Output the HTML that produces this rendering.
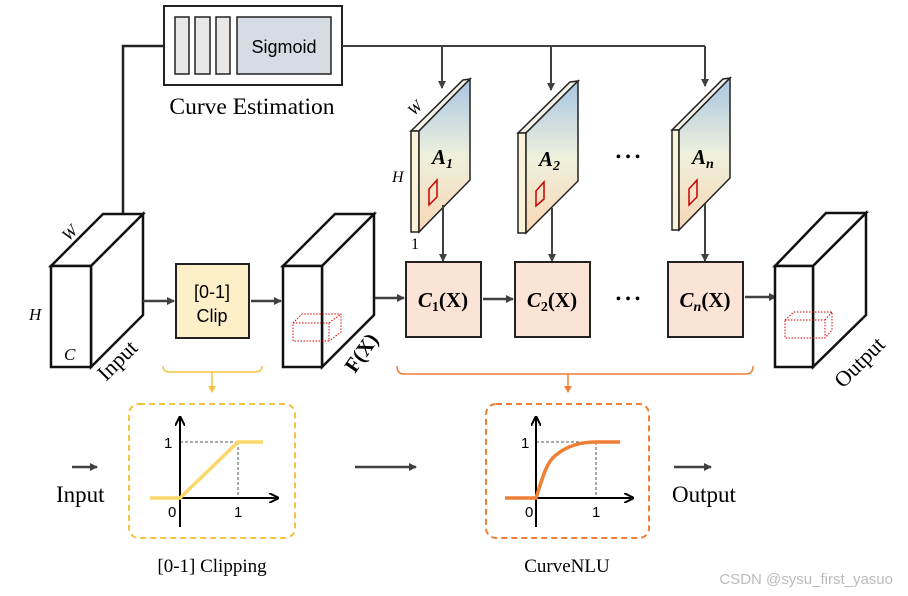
<!DOCTYPE html>
<html><head><meta charset="utf-8"><style>
html,body{margin:0;padding:0;background:#fff;}
svg{display:block;}
.serif{font-family:"Liberation Serif",serif;}
.sans{font-family:"Liberation Sans",sans-serif;}
</style></head><body>
<svg width="908" height="596" viewBox="0 0 908 596" xmlns="http://www.w3.org/2000/svg">
<defs>
<marker id="ah" markerWidth="8" markerHeight="8" refX="7" refY="4" orient="auto" markerUnits="userSpaceOnUse"><path d="M0,0 L8,4 L0,8 z" fill="#404040"/></marker>
<marker id="ahk" markerWidth="10" markerHeight="10" refX="9" refY="5" orient="auto" markerUnits="userSpaceOnUse"><path d="M0,0 L10,5 L0,10" fill="none" stroke="#000" stroke-width="2"/></marker>
<linearGradient id="g" x1="0" y1="0" x2="0" y2="1"><stop offset="0" stop-color="#a7c5e3"/><stop offset="0.5" stop-color="#eef0dc"/><stop offset="1" stop-color="#f8d7b4"/></linearGradient>
</defs>

<!-- curve estimation -->
<rect x="164" y="6" width="178" height="79" fill="#fff" stroke="#222" stroke-width="2"/>
<rect x="175" y="17" width="14" height="57" fill="#e8e8e8" stroke="#222" stroke-width="1.5"/>
<rect x="195" y="17" width="15" height="57" fill="#e8e8e8" stroke="#222" stroke-width="1.5"/>
<rect x="216" y="17" width="14" height="57" fill="#e8e8e8" stroke="#222" stroke-width="1.5"/>
<rect x="237" y="17" width="94" height="57" fill="#d6dce4" stroke="#222" stroke-width="1.5"/>
<text x="284" y="53" class="sans" font-size="18" text-anchor="middle">Sigmoid</text>
<text x="252" y="114" class="serif" font-size="23.5" text-anchor="middle">Curve Estimation</text>

<polyline points="164,46 123,46 123,214" fill="none" stroke="#222" stroke-width="2.5"/>
<line x1="342" y1="46" x2="705" y2="46" stroke="#404040" stroke-width="2"/>
<line x1="442" y1="46" x2="442" y2="88" stroke="#404040" stroke-width="2" marker-end="url(#ah)"/>
<line x1="551" y1="46" x2="551" y2="90" stroke="#404040" stroke-width="2" marker-end="url(#ah)"/>
<line x1="705" y1="46" x2="705" y2="86" stroke="#404040" stroke-width="2" marker-end="url(#ah)"/>

<!-- input cube -->
<g fill="#fff" stroke="#111" stroke-width="2.5">
<polygon points="51,266 103,214 143,214 91,266"/>
<polygon points="91,266 143,214 143,315 91,367"/>
<rect x="51" y="266" width="40" height="101"/>
</g>
<text x="62" y="238" class="serif" font-size="17" font-style="italic" transform="rotate(-45 70 232)">W</text>
<text x="29" y="320" class="serif" font-size="17" font-style="italic">H</text>
<text x="64" y="360" class="serif" font-size="17" font-style="italic">C</text>
<text x="106" y="382" class="serif" font-size="22" transform="rotate(-45 106 382)">Input</text>

<line x1="143" y1="301" x2="174" y2="301" stroke="#404040" stroke-width="2.5" marker-end="url(#ah)"/>
<rect x="176" y="264" width="73" height="74" fill="#fdf0c9" stroke="#222" stroke-width="2"/>
<text x="212" y="298" class="sans" font-size="18" text-anchor="middle">[0-1]</text>
<text x="212" y="322" class="sans" font-size="18" text-anchor="middle">Clip</text>
<line x1="251" y1="301" x2="281" y2="301" stroke="#404040" stroke-width="2.5" marker-end="url(#ah)"/>

<!-- F(X) cube -->
<g fill="#fff" stroke="#111" stroke-width="2.5">
<polygon points="283,266 335,214 374,214 322,266"/>
<polygon points="322,266 374,214 374,315 322,367"/>
<rect x="283" y="266" width="39" height="101"/>
</g>
<g fill="none" stroke="#d00" stroke-width="1" stroke-dasharray="1.5,1.5">
<rect x="293" y="323" width="36" height="18"/><polyline points="293,323 302,314 341,314 341,332 329,341"/><line x1="329" y1="323" x2="341" y2="314"/>
</g>
<text x="355" y="374" class="serif" font-size="21" font-weight="bold" transform="rotate(-55 355 374)">F(X)</text>
<line x1="375" y1="298" x2="404" y2="298" stroke="#404040" stroke-width="2.5" marker-end="url(#ah)"/>

<!-- A maps -->
<g stroke="#222" stroke-width="1.5">
<polygon points="411,131 463,80 470,79 419,131" fill="#f2f2e8"/>
<rect x="411" y="131" width="8" height="101" fill="#fbf3d8"/>
<polygon points="419,131 470,79 470,180 419,232" fill="url(#g)"/>
<polygon points="518,133 570,82 578,81 526,133" fill="#f2f2e8"/>
<rect x="518" y="133" width="8" height="100" fill="#fbf3d8"/>
<polygon points="526,133 578,81 578,181 526,233" fill="url(#g)"/>
<polygon points="672,130 723,79 730,78 679,130" fill="#f2f2e8"/>
<rect x="672" y="130" width="7" height="100" fill="#fbf3d8"/>
<polygon points="679,130 730,78 730,178 679,230" fill="url(#g)"/>
</g>
<g fill="none" stroke="#c00" stroke-width="1.5">
<polygon points="429,189 437,180 437,197 429,205"/>
<polygon points="536,191 544,182 544,199 536,206"/>
<polygon points="689,189 697,180 697,197 689,205"/>
</g>
<g class="serif" font-weight="bold" font-style="italic" font-size="21">
<text x="432" y="164">A<tspan font-size="14" dy="4">1</tspan></text>
<text x="539" y="166">A<tspan font-size="14" dy="4">2</tspan></text>
<text x="692" y="164">A<tspan font-size="14" dy="4">n</tspan></text>
</g>
<text x="408" y="114" class="serif" font-size="16" font-style="italic" transform="rotate(-45 414 108)">W</text>
<text x="392" y="182" class="serif" font-size="16" font-style="italic">H</text>
<text x="411" y="249" class="serif" font-size="16">1</text>
<text x="628" y="162" font-size="16" text-anchor="middle" class="serif">• • •</text>

<line x1="443" y1="205" x2="443" y2="261" stroke="#404040" stroke-width="2" marker-end="url(#ah)"/>
<line x1="552" y1="208" x2="552" y2="261" stroke="#404040" stroke-width="2" marker-end="url(#ah)"/>
<line x1="705" y1="204" x2="705" y2="261" stroke="#404040" stroke-width="2" marker-end="url(#ah)"/>

<!-- C boxes -->
<g fill="#fbe4d5" stroke="#222" stroke-width="2">
<rect x="406" y="262" width="75" height="75"/>
<rect x="515" y="262" width="75" height="75"/>
<rect x="668" y="262" width="75" height="75"/>
</g>
<g class="serif" font-weight="bold" font-size="21" text-anchor="middle">
<text x="443" y="307"><tspan font-style="italic">C</tspan><tspan font-size="14" dy="4">1</tspan><tspan dy="-4">(X)</tspan></text>
<text x="552" y="307"><tspan font-style="italic">C</tspan><tspan font-size="14" dy="4">2</tspan><tspan dy="-4">(X)</tspan></text>
<text x="705" y="307"><tspan font-style="italic">C</tspan><tspan font-size="14" dy="4" font-style="italic">n</tspan><tspan dy="-4">(X)</tspan></text>
</g>
<line x1="483" y1="299" x2="513" y2="299" stroke="#404040" stroke-width="2.5" marker-end="url(#ah)"/>
<text x="628" y="304" font-size="16" text-anchor="middle" class="serif">• • •</text>
<line x1="745" y1="297" x2="776" y2="297" stroke="#404040" stroke-width="2.5" marker-end="url(#ah)"/>

<!-- output cube -->
<g fill="#fff" stroke="#111" stroke-width="2.5">
<polygon points="775,266 826,213 866,213 813,266"/>
<polygon points="813,266 866,213 866,315 813,367"/>
<rect x="775" y="266" width="38" height="101"/>
</g>
<g fill="none" stroke="#d00" stroke-width="1" stroke-dasharray="1.5,1.5">
<rect x="785" y="320" width="40" height="18"/><polyline points="785,320 794,312 832,312 832,330 825,338"/><line x1="825" y1="320" x2="832" y2="312"/>
</g>
<text x="843" y="389" class="serif" font-size="22" transform="rotate(-45 843 389)">Output</text>

<!-- braces -->
<path d="M163,366 Q163,372 170,372 L255,372 Q262,372 262,366" fill="none" stroke="#f5c242" stroke-width="1.5"/>
<line x1="212" y1="372" x2="212" y2="386" stroke="#f5c242" stroke-width="1.5"/>
<path d="M208,386 L216,386 L212,393 z" fill="#f5c242"/>
<path d="M397,366 Q397,374 404,374 L746,374 Q753,374 753,366" fill="none" stroke="#ef7f34" stroke-width="1.5"/>
<line x1="568" y1="374" x2="568" y2="387" stroke="#ef7f34" stroke-width="1.5"/>
<path d="M564,386 L572,386 L568,393 z" fill="#ef7f34"/>

<!-- bottom -->
<line x1="72" y1="467" x2="97" y2="467" stroke="#404040" stroke-width="2.5" marker-end="url(#ah)"/>
<text x="56" y="502" class="serif" font-size="23">Input</text>
<rect x="129" y="404" width="166" height="134" rx="10" fill="none" stroke="#f5c242" stroke-width="2" stroke-dasharray="6,4"/>
<line x1="180" y1="442" x2="238" y2="442" stroke="#555" stroke-width="1" stroke-dasharray="3,2"/>
<line x1="238" y1="442" x2="238" y2="498" stroke="#555" stroke-width="1" stroke-dasharray="3,2"/>
<line x1="180" y1="527" x2="180" y2="417" stroke="#000" stroke-width="2" marker-end="url(#ahk)"/>
<line x1="150" y1="498" x2="278" y2="498" stroke="#000" stroke-width="2" marker-end="url(#ahk)"/>
<polyline points="150,498 180,498 238,442 263,442" fill="none" stroke="#fcd76a" stroke-width="3.5"/>
<g class="sans" font-size="15">
<text x="164" y="448">1</text><text x="168" y="517">0</text><text x="234" y="517">1</text>
</g>
<text x="212" y="572" class="serif" font-size="19" text-anchor="middle">[0-1] Clipping</text>

<line x1="355" y1="467" x2="416" y2="467" stroke="#404040" stroke-width="2.5" marker-end="url(#ah)"/>

<rect x="486" y="404" width="163" height="134" rx="10" fill="none" stroke="#ef7f34" stroke-width="2" stroke-dasharray="6,4"/>
<line x1="536" y1="442" x2="596" y2="442" stroke="#555" stroke-width="1" stroke-dasharray="3,2"/>
<line x1="596" y1="442" x2="596" y2="498" stroke="#555" stroke-width="1" stroke-dasharray="3,2"/>
<line x1="536" y1="527" x2="536" y2="417" stroke="#000" stroke-width="2" marker-end="url(#ahk)"/>
<line x1="505" y1="498" x2="633" y2="498" stroke="#000" stroke-width="2" marker-end="url(#ahk)"/>
<path d="M505,498 L536,498 C542,480 546,462 556,455 C568,445 582,442 596,442 L620,442" fill="none" stroke="#ef7f34" stroke-width="3.5"/>
<g class="sans" font-size="15">
<text x="521" y="448">1</text><text x="525" y="517">0</text><text x="592" y="517">1</text>
</g>
<text x="567" y="572" class="serif" font-size="19" text-anchor="middle">CurveNLU</text>

<line x1="674" y1="467" x2="711" y2="467" stroke="#404040" stroke-width="2.5" marker-end="url(#ah)"/>
<text x="672" y="502" class="serif" font-size="23">Output</text>

<text x="893" y="584" class="sans" font-size="15" fill="#bbb" text-anchor="end">CSDN @sysu_first_yasuo</text>
</svg>
</body></html>
